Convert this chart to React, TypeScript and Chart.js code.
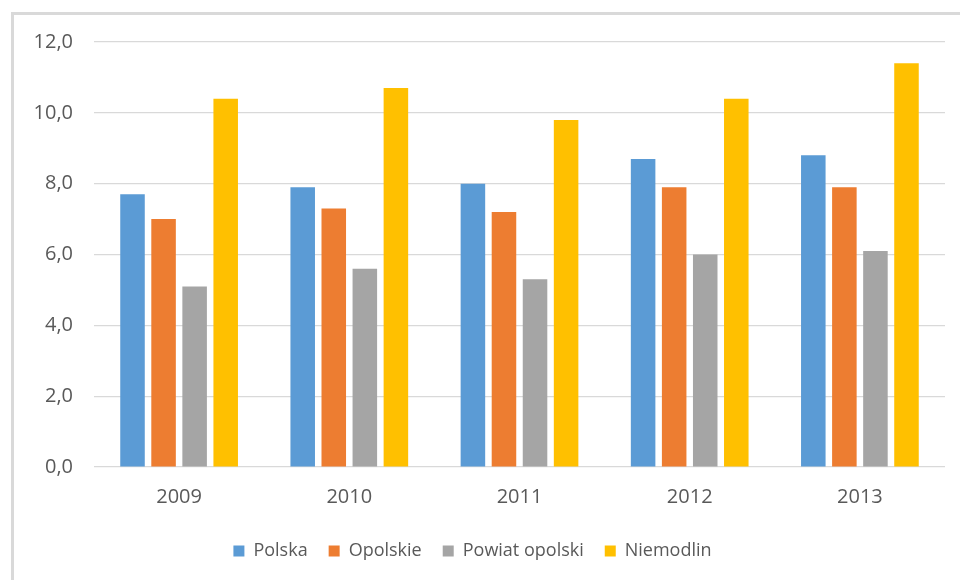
import React, { useEffect, useRef } from "react";
import { Chart, registerables } from "chart.js";

Chart.register(...registerables);

const categories = ["2009", "2010", "2011", "2012", "2013"];
const polska = [7.7, 7.9, 8.0, 8.7, 8.8];
const opolskie = [7.0, 7.3, 7.2, 7.9, 7.9];
const powiatOpolski = [5.1, 5.6, 5.3, 6.0, 6.1];
const niemodlin = [10.4, 10.7, 9.8, 10.4, 11.4];
const seriesNames = ["Polska", "Opolskie", "Powiat opolski", "Niemodlin"];
const yTicks = [0, 2, 4, 6, 8, 10, 12];

const colors = ["#5B9BD5", "#ED7D31", "#A5A5A5", "#FFC000"];
const FONT = "'Open Sans', 'Noto Sans', sans-serif";

const framePlugin = {
  id: "frame",
  beforeDraw(chart: any) {
    const ctx = chart.ctx;
    ctx.save();
    ctx.fillStyle = "#ffffff";
    ctx.fillRect(0, 0, chart.width, chart.height);
    ctx.strokeStyle = "#D9D9D9";
    ctx.lineWidth = 3;
    ctx.beginPath();
    ctx.moveTo(12.5, chart.height + 5);
    ctx.lineTo(12.5, 13.5);
    ctx.lineTo(chart.width + 5, 13.5);
    ctx.stroke();
    ctx.restore();
  },
};

export default function App() {
  const ref = useRef<HTMLCanvasElement>(null);
  useEffect(() => {
    document.body.style.margin = "0";
    const data = [polska, opolskie, powiatOpolski, niemodlin];
    const chart = new Chart(ref.current!, {
      type: "bar",
      data: {
        labels: categories,
        datasets: seriesNames.map((name, i) => ({
          label: name,
          data: data[i],
          backgroundColor: colors[i],
          borderWidth: 0,
          categoryPercentage: 0.73,
          barPercentage: 0.79,
        })),
      },
      options: {
        animation: false,
        responsive: false,
        maintainAspectRatio: false,
        layout: { padding: { left: 0, right: 15, top: 42, bottom: 10 } },
        plugins: {
          tooltip: { enabled: false },
          legend: {
            position: "bottom",
            labels: {
              boxWidth: 11,
              boxHeight: 11,
              padding: 21,
              color: "#595959",
              font: { family: FONT, size: 18 },
            },
          },
        },
        scales: {
          x: {
            grid: { display: false, drawTicks: false },
            border: { display: false },
            ticks: {
              color: "#595959",
              font: { family: FONT, size: 20 },
              padding: 18,
            },
            afterFit: (s: any) => {
              s.height = 54;
            },
          },
          y: {
            min: 0,
            max: 12,
            afterBuildTicks: (s: any) => {
              s.ticks = yTicks.map((v) => ({ value: v }));
            },
            grid: { color: "#D9D9D9", lineWidth: 1.2, drawTicks: false },
            border: { display: false },
            ticks: {
              color: "#595959",
              font: { family: FONT, size: 20 },
              padding: 21,
              callback: (v: any) => Number(v).toFixed(1).replace(".", ","),
            },
            afterFit: (s: any) => {
              s.width = 94;
            },
          },
        },
      },
      plugins: [framePlugin],
    });
    return () => chart.destroy();
  }, []);
  return (
    <div style={{ width: 960, height: 580 }}>
      <canvas ref={ref} width={960} height={580} style={{ display: "block" }} />
    </div>
  );
}
